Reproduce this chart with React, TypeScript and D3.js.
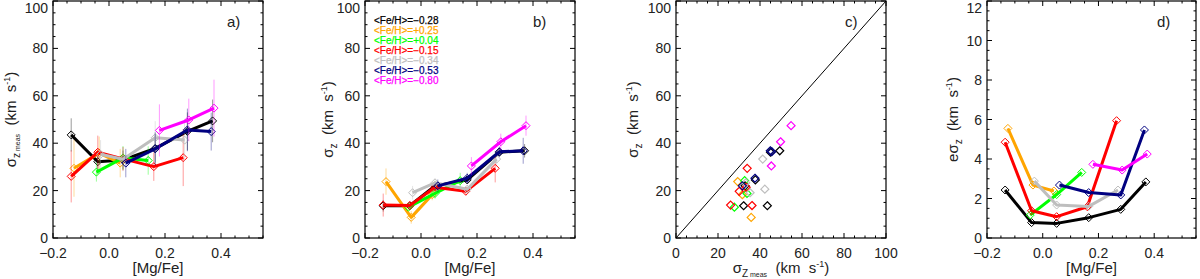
import React from 'react';
import * as d3 from 'd3';

// ---- data ----
const seriesColors = ['#000000', '#FFA500', '#00FF00', '#FF0000', '#BEBEBE', '#000080', '#FF00FF'];
const legendLabels = ['<Fe/H>=−0.28', '<Fe/H>=+0.25', '<Fe/H>=+0.04', '<Fe/H>=−0.15', '<Fe/H>=−0.34', '<Fe/H>=−0.53', '<Fe/H>=−0.80'];

// [Mg/Fe] bin centres per series
const mgFe: number[][] = [
  [-0.135, -0.04, 0.05, 0.165, 0.28, 0.37],
  [-0.125, -0.035, 0.04],
  [-0.045, 0.05, 0.14],
  [-0.135, -0.04, 0.05, 0.16, 0.265],
  [-0.03, 0.05, 0.165, 0.27],
  [0.06, 0.165, 0.28, 0.365],
  [0.18, 0.285, 0.375],
];
// sigma_z meas (panel a)
const sigMeas: number[][] = [
  [43.5, 32.2, 32.9, 37.8, 45.0, 49.4],
  [29.4, 35.8, 31.6],
  [27.8, 33.8, 32.7],
  [26.0, 36.2, 33.4, 30.1, 33.9],
  [35.3, 33.2, 42.3, 41.3],
  [31.6, 37.6, 45.6, 44.9],
  [45.4, 49.8, 54.8],
];
const sigMeasErr: number[][] = [
  [7, 5, 4, 6, 8, 9],
  [12, 7, 6],
  [4, 5, 6],
  [11, 7, 5, 6, 12],
  [6, 5, 7, 9],
  [6, 7, 9, 8],
  [11, 9, 12],
];
// sigma_z (panel b)
const sigZ: number[][] = [
  [13.6, 13.6, 22.0, 24.5, 36.2, 36.8],
  [23.8, 8.7, 18.3],
  [13.0, 18.8, 24.2],
  [13.9, 13.7, 21.4, 19.7, 29.4],
  [19.1, 23.3, 20.6, 33.3],
  [22.0, 25.2, 36.4, 36.8],
  [30.4, 40.6, 47.4],
];
// e sigma_z (panel d, also error bars of panel b)
const eSigZ: number[][] = [
  [2.43, 0.78, 0.74, 1.03, 1.45, 2.84],
  [5.55, 2.68, 2.38],
  [1.16, 2.2, 3.32],
  [4.85, 1.38, 1.08, 1.58, 5.94],
  [2.88, 1.67, 1.6, 2.43],
  [2.68, 2.3, 2.18, 5.47],
  [3.73, 3.44, 4.25],
];

const mgTicks = [-0.2, 0.0, 0.2, 0.4];
const sigTicks = [0, 20, 40, 60, 80, 100];
const eTicks = [0, 2, 4, 6, 8, 10, 12];

// ---- layout ----
const W = 1200, H = 279;
const Y0 = 238, Y1 = 1;
const FONT = 'Liberation Sans, Arial, sans-serif';

type AxisSpec = { domain: [number, number]; ticks: number[]; minor: number; fmt: (v: number) => string };

const fmtMg = (v: number) => (v < 0 ? '−' : '') + Math.abs(v).toFixed(1);
const fmtInt = (v: number) => String(v);

function Frame({ x, y, xa, ya }: { x: d3.ScaleLinear<number, number>; y: d3.ScaleLinear<number, number>; xa: AxisSpec; ya: AxisSpec }) {
  const [xl, xr] = x.range();
  const [yb, yt] = y.range();
  const els: React.ReactNode[] = [];
  const majL = 5, minL = 2.5;
  const xminor = d3.range(xa.domain[0], xa.domain[1] + 1e-9, xa.minor);
  xminor.forEach((v, i) => {
    const isMaj = xa.ticks.some((t) => Math.abs(t - v) < 1e-6);
    const L = isMaj ? majL : minL;
    const px = x(v);
    els.push(<line key={'xb' + i} x1={px} x2={px} y1={yb} y2={yb - L} stroke="#000" strokeWidth={1} />);
    els.push(<line key={'xt' + i} x1={px} x2={px} y1={yt} y2={yt + L} stroke="#000" strokeWidth={1} />);
  });
  const yminor = d3.range(ya.domain[0], ya.domain[1] + 1e-9, ya.minor);
  yminor.forEach((v, i) => {
    const isMaj = ya.ticks.some((t) => Math.abs(t - v) < 1e-6);
    const L = isMaj ? majL : minL;
    const py = y(v);
    els.push(<line key={'yl' + i} x1={xl} x2={xl + L} y1={py} y2={py} stroke="#000" strokeWidth={1} />);
    els.push(<line key={'yr' + i} x1={xr} x2={xr - L} y1={py} y2={py} stroke="#000" strokeWidth={1} />);
  });
  xa.ticks.forEach((t, i) => {
    els.push(
      <text key={'xtl' + i} x={x(t)} y={yb + 20} textAnchor="middle" fontSize={14} fontFamily={FONT} fill="#222">
        {xa.fmt(t)}
      </text>
    );
  });
  ya.ticks.forEach((t, i) => {
    els.push(
      <text key={'ytl' + i} x={xl - 5} y={Math.max(y(t) + 5, 13)} textAnchor="end" fontSize={14} fontFamily={FONT} fill="#222">
        {ya.fmt(t)}
      </text>
    );
  });
  els.push(<rect key="frame" x={xl} y={yt} width={xr - xl} height={yb - yt} fill="none" stroke="#000" strokeWidth={1.2} />);
  return <g>{els}</g>;
}

function diamond(cx: number, cy: number, r: number) {
  return `M${cx},${cy - r}L${cx + r},${cy}L${cx},${cy + r}L${cx - r},${cy}Z`;
}

function Series({ x, y, xs, ys, errs, color, showErr }: any) {
  const pts: [number, number][] = xs.map((v: number, i: number) => [x(v), y(ys[i])]);
  const line = d3.line()(pts) || '';
  return (
    <g>
      {showErr &&
        xs.map((v: number, i: number) => (
          <line key={'e' + i} x1={x(v)} x2={x(v)} y1={y(ys[i] - errs[i])} y2={y(ys[i] + errs[i])} stroke={color} strokeOpacity={0.4} strokeWidth={1} />
        ))}
      <path d={line} fill="none" stroke={color} strokeWidth={3} strokeLinejoin="round" />
      {pts.map((p, i) => (
        <path key={'d' + i} d={diamond(p[0], p[1], 4)} fill="none" stroke={color} strokeWidth={1} />
      ))}
    </g>
  );
}

function YLabel({ x, yc, sub, prefix }: { x: number; yc: number; sub: string[]; prefix?: string }) {
  return (
    <text transform={`translate(${x},${yc}) rotate(-90)`} textAnchor="middle" fontSize={15} fontFamily={FONT} fill="#222" style={{ whiteSpace: 'pre' }}>
      {prefix || ''}σ
      <tspan fontSize={10} dy={4}>{sub[0]}</tspan>
      {sub[1] ? <tspan fontSize={7}>{' ' + sub[1]}</tspan> : null}
      <tspan fontSize={15} dy={-4}>{'  (km  s'}</tspan>
      <tspan fontSize={9} dy={-6}>{'-1'}</tspan>
      <tspan fontSize={15} dy={6}>{')'}</tspan>
    </text>
  );
}

export default function App() {
  const panelsX: [number, number][] = [
    [53, 263],
    [365, 575],
    [676, 886],
    [987, 1196],
  ];
  const mgAxis: AxisSpec = { domain: [-0.2, 0.55], ticks: mgTicks, minor: 0.05, fmt: fmtMg };
  const sigAxis: AxisSpec = { domain: [0, 100], ticks: sigTicks, minor: 5, fmt: fmtInt };
  const eAxis: AxisSpec = { domain: [0, 12], ticks: eTicks, minor: 0.5, fmt: fmtInt };

  const xa = d3.scaleLinear().domain(mgAxis.domain).range(panelsX[0]);
  const xb = d3.scaleLinear().domain(mgAxis.domain).range(panelsX[1]);
  const xc = d3.scaleLinear().domain(sigAxis.domain).range(panelsX[2]);
  const xd = d3.scaleLinear().domain(mgAxis.domain).range(panelsX[3]);
  const ys = d3.scaleLinear().domain([0, 100]).range([Y0, Y1]);
  const ye = d3.scaleLinear().domain([0, 12]).range([Y0, Y1]);
  const yc = (Y0 + Y1) / 2;

  const mgLabel = (sc: d3.ScaleLinear<number, number>) => {
    const [a, b] = sc.range();
    return (
      <text x={(a + b) / 2} y={273} textAnchor="middle" fontSize={15} fontFamily={FONT} fill="#222">
        [Mg/Fe]
      </text>
    );
  };

  return (
    <svg width={W} height={H} style={{ position: 'absolute', left: 0, top: 0, background: '#fff' }}>
      <rect x={0} y={0} width={W} height={H} fill="#fff" />
      {/* panel a */}
      <g>
        {seriesColors.map((c, s) => (
          <Series key={s} x={xa} y={ys} xs={mgFe[s]} ys={sigMeas[s]} errs={sigMeasErr[s]} color={c} showErr />
        ))}
        <Frame x={xa} y={ys} xa={mgAxis} ya={sigAxis} />
        <text x={227} y={27} fontSize={15} fontFamily={FONT} fill="#222">a)</text>
        {mgLabel(xa)}
        <YLabel x={16} yc={yc} sub={['z', 'meas']} />
      </g>
      {/* panel b */}
      <g>
        {seriesColors.map((c, s) => (
          <Series key={s} x={xb} y={ys} xs={mgFe[s]} ys={sigZ[s]} errs={eSigZ[s]} color={c} showErr />
        ))}
        <Frame x={xb} y={ys} xa={mgAxis} ya={sigAxis} />
        <text x={533} y={27} fontSize={15} fontFamily={FONT} fill="#222">b)</text>
        {legendLabels.map((l, i) => (
          <text key={i} x={374} y={24 + i * 10} fontSize={10} fontFamily={FONT} fill={seriesColors[i]} stroke={seriesColors[i]} strokeWidth={0.25}>
            {l}
          </text>
        ))}
        {mgLabel(xb)}
        <YLabel x={333} yc={yc} sub={['z']} />
      </g>
      {/* panel c */}
      <g>
        <line x1={xc(0)} y1={ys(0)} x2={xc(100)} y2={ys(100)} stroke="#000" strokeWidth={1} />
        {seriesColors.map((c, s) => (
          <g key={s}>
            {sigMeas[s].map((v, i) => (
              <path key={i} d={diamond(xc(v), ys(sigZ[s][i]), 4)} fill="none" stroke={c} strokeWidth={1.2} />
            ))}
          </g>
        ))}
        <Frame x={xc} y={ys} xa={sigAxis} ya={sigAxis} />
        <text x={845} y={27} fontSize={15} fontFamily={FONT} fill="#222">c)</text>
        <text x={(676 + 886) / 2} y={273} textAnchor="middle" fontSize={15} fontFamily={FONT} fill="#222" style={{ whiteSpace: 'pre' }}>
          σ<tspan fontSize={10} dy={4}>Z</tspan>
          <tspan fontSize={7}>{' meas'}</tspan>
          <tspan fontSize={15} dy={-4}>{'  (km  s'}</tspan>
          <tspan fontSize={9} dy={-6}>{'-1'}</tspan>
          <tspan fontSize={15} dy={6}>{')'}</tspan>
        </text>
        <YLabel x={638} yc={yc} sub={['z']} />
      </g>
      {/* panel d */}
      <g>
        {seriesColors.map((c, s) => (
          <Series key={s} x={xd} y={ye} xs={mgFe[s]} ys={eSigZ[s]} errs={eSigZ[s]} color={c} showErr={false} />
        ))}
        <Frame x={xd} y={ye} xa={mgAxis} ya={eAxis} />
        <text x={1157} y={27} fontSize={15} fontFamily={FONT} fill="#222">d)</text>
        {mgLabel(xd)}
        <YLabel x={958} yc={yc} sub={['z']} prefix="e" />
      </g>
    </svg>
  );
}
